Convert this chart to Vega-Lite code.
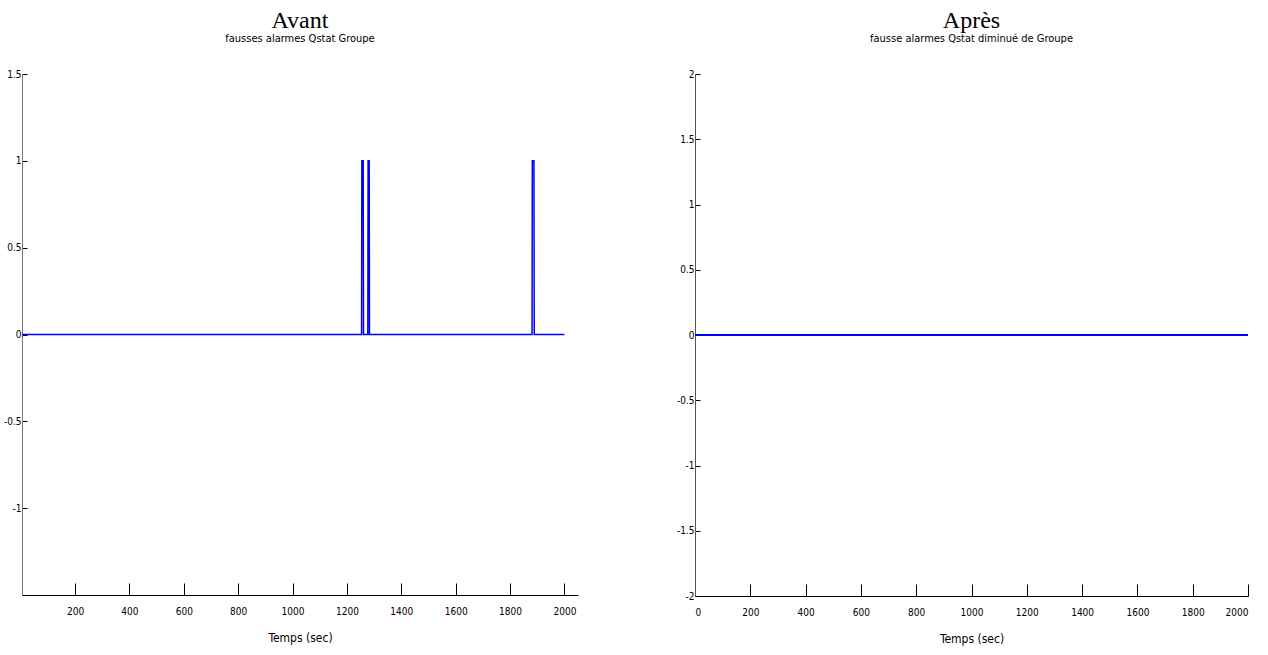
{
  "$schema": "https://vega.github.io/schema/vega-lite/v6.json",
  "background": "white",
  "padding": {"left": 3, "top": 9, "right": 10, "bottom": 5},
  "spacing": 98,
  "config": {
    "view": {"stroke": null},
    "axis": {
      "labelFont": "DejaVu Sans Condensed, Liberation Sans Narrow, Arial Narrow, sans-serif",
      "labelFontSize": 10,
      "labelColor": "#000",
      "titleFont": "DejaVu Sans Condensed, Liberation Sans Narrow, Arial Narrow, sans-serif",
      "titleFontSize": 12,
      "titleFontWeight": "normal",
      "titleColor": "#000",
      "grid": false,
      "domainColor": "#000",
      "tickColor": "#000",
      "labelExpr": "'' + datum.value"
    }
  },
  "datasets": {
    "avant": [
      {"t": 5, "v": 0}, {"t": 1254, "v": 0}, {"t": 1255, "v": 1}, {"t": 1260, "v": 1}, {"t": 1261, "v": 0},
      {"t": 1277, "v": 0}, {"t": 1278, "v": 1}, {"t": 1282, "v": 1}, {"t": 1283, "v": 0},
      {"t": 1881, "v": 0}, {"t": 1882, "v": 1}, {"t": 1888, "v": 1}, {"t": 1889, "v": 0}, {"t": 2000, "v": 0}
    ],
    "apres": [
      {"t": 0, "v": 0}, {"t": 2000, "v": 0}
    ]
  },
  "hconcat": [
    {
      "title": {"text": "Avant", "subtitle": "fausses alarmes Qstat Groupe", "font": "Liberation Serif", "fontSize": 24, "fontWeight": "normal", "color": "#000", "subtitleFont": "DejaVu Sans Condensed, Liberation Sans Narrow, sans-serif", "subtitleFontSize": 11, "subtitleColor": "#000", "subtitlePadding": 0, "offset": 25, "anchor": "middle"},
      "width": 556,
      "height": 521,
      "data": {"name": "avant"},
      "mark": {"type": "line", "color": "#0000ff", "strokeWidth": 1.5},
      "encoding": {
        "x": {"field": "t", "type": "quantitative", "scale": {"domain": [5, 2050], "nice": false, "zero": false},
          "axis": {"title": "Temps (sec)", "values": [200, 400, 600, 800, 1000, 1200, 1400, 1600, 1800, 2000], "tickSize": -12, "labelPadding": 23, "titlePadding": 16}},
        "y": {"field": "v", "type": "quantitative", "scale": {"domain": [-1.5, 1.5], "nice": false},
          "axis": {"title": null, "values": [-1, -0.5, 0, 0.5, 1, 1.5], "tickSize": -5, "labelPadding": 6, "domainColor": "#777"}}
      }
    },
    {
      "title": {"text": "Après", "subtitle": "fausse alarmes Qstat diminué de Groupe", "font": "Liberation Serif", "fontSize": 24, "fontWeight": "normal", "color": "#000", "subtitleFont": "DejaVu Sans Condensed, Liberation Sans Narrow, sans-serif", "subtitleFontSize": 11, "subtitleColor": "#000", "subtitlePadding": 0, "offset": 25, "anchor": "middle"},
      "width": 553,
      "height": 522,
      "data": {"name": "apres"},
      "mark": {"type": "line", "color": "#0000ff", "strokeWidth": 2},
      "encoding": {
        "x": {"field": "t", "type": "quantitative", "scale": {"domain": [0, 2000], "nice": false},
          "axis": {"title": "Temps (sec)", "values": [0, 200, 400, 600, 800, 1000, 1200, 1400, 1600, 1800, 2000], "tickSize": -12, "labelPadding": 23, "titlePadding": 16}},
        "y": {"field": "v", "type": "quantitative", "scale": {"domain": [-2, 2], "nice": false},
          "axis": {"title": null, "values": [-2, -1.5, -1, -0.5, 0, 0.5, 1, 1.5, 2], "tickSize": -5, "labelPadding": 6, "domainColor": "#555"}}
      }
    }
  ]
}
